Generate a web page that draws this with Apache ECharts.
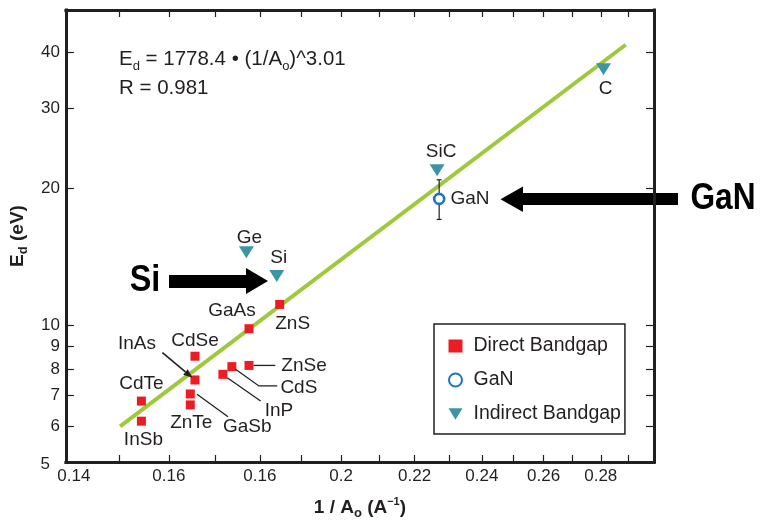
<!DOCTYPE html>
<html>
<head>
<meta charset="utf-8">
<script src="https://cdn.jsdelivr.net/npm/echarts@6/dist/echarts.min.js"></script>
<style>
  html, body { margin: 0; padding: 0; background: #fff; }
  #chart { width: 764px; height: 525px; }
</style>
</head>
<body>
<div id="chart"></div>
<script>
// 直接带隙 (red squares)
const directNames = ['InSb', 'CdTe', 'ZnTe', 'GaSb', 'InAs', 'CdSe', 'InP', 'CdS', 'ZnSe', 'GaAs', 'ZnS'];
const directX = [0.1544, 0.1544, 0.1645, 0.1645, 0.1655, 0.1655, 0.1716, 0.1736, 0.1775, 0.1775, 0.1847];
const directY = [6.15, 6.81, 6.68, 7.06, 7.58, 8.55, 7.80, 8.11, 8.16, 9.83, 11.12];

// 间接带隙 (teal triangles)
const indirectNames = ['Ge', 'Si', 'SiC', 'C'];
const indirectX = [0.1769, 0.1840, 0.2265, 0.2810];
const indirectY = [14.48, 12.84, 21.96, 36.65];

// GaN with error bar
const ganX = [0.2271];
const ganY = [18.99];
const ganLow = [17.11];
const ganHigh = [20.92];

// fit line end points
const fitX = [0.1502, 0.2892];
const fitY = [5.99, 41.5];

// ticks
const xTickValues = [0.15, 0.16, 0.17, 0.18, 0.19, 0.20, 0.21, 0.22, 0.23, 0.24, 0.25, 0.26, 0.27, 0.28, 0.29];
const xLabelValues = [0.14, 0.16, 0.18, 0.20, 0.22, 0.24, 0.26, 0.28];
const xLabelTexts = ['0.14', '0.16', '0.16', '0.2', '0.22', '0.24', '0.26', '0.28'];
const yTickValues = [6, 7, 8, 9, 10, 20, 30, 40];
const yLabelValues = [5, 6, 7, 8, 9, 10, 20, 30, 40];
const yLabelTexts = ['5', '6', '7', '8', '9', '10', '20', '30', '40'];

const lg = v => Math.log10(v);
const FONT = '"Liberation Sans", Arial, Helvetica, sans-serif';
const INK = '#231f20';
const RED = '#ec1c24';
const TEAL = '#3c95a5';
const BLUE = '#1c74bc';
const GREEN = '#9fc93c';

// label offsets (label centre minus point centre, px)
const labelOffset = {
  InSb: [2, 19], CdTe: [0, -17], ZnTe: [1, 18], GaSb: [57, 33], InAs: [-58, -36],
  CdSe: [0, -15], InP: [56, 36], CdS: [67, 21], ZnSe: [55, 0], GaAs: [-17, -18],
  ZnS: [13, 19], Ge: [3, -15], Si: [2, -18], SiC: [4, -18], C: [2, 20]
};
// leader lines, relative to the point
const leaders = {
  GaSb: [[6.7, 0.2], [37.7, 22.7]],
  InP: [[4.4, 3.4], [37.7, 26.7]],
  CdS: [[3.7, 2.6], [27, 19.3], [45.4, 19.3]],
  ZnSe: [[4.6, 0], [26.3, 0]]
};

const pointLabel = {
  show: true,
  position: 'inside',
  formatter: '{b}',
  color: INK,
  fontSize: 19,
  fontFamily: FONT,
  textBorderWidth: 0
};

function pts(names, xs, ys) {
  return names.map((n, i) => ({
    name: n,
    value: [lg(xs[i]), lg(ys[i])],
    label: { offset: labelOffset[n] }
  }));
}

function xAxisCfg(pos, showLabel) {
  return {
    type: 'value', position: pos, min: lg(0.14), max: lg(0.30),
    axisLine: { show: true, onZero: false, lineStyle: { color: INK, width: 3, cap: 'square' } },
    axisTick: { show: true, inside: true, length: 7, customValues: xTickValues.map(lg), lineStyle: { color: INK, width: 1.2 } },
    axisLabel: {
      show: showLabel, customValues: xLabelValues.map(lg), margin: 6,
      fontSize: 17, color: INK, fontFamily: FONT,
      formatter: v => {
        const i = xLabelValues.findIndex(t => Math.abs(lg(t) - v) < 1e-4);
        if (i < 0) return '';
        return i === 0 ? '{first|' + xLabelTexts[i] + '}' : xLabelTexts[i];
      },
      rich: { first: { fontSize: 17, color: INK, fontFamily: FONT, padding: [0, 0, 0, 16] } }
    },
    splitLine: { show: false }
  };
}

function yAxisCfg(pos, showLabel) {
  return {
    type: 'value', position: pos, min: lg(5), max: lg(49.5),
    axisLine: { show: true, onZero: false, lineStyle: { color: INK, width: 3, cap: 'square' } },
    axisTick: { show: true, inside: true, length: 8, customValues: yTickValues.map(lg), lineStyle: { color: INK, width: 1.2 } },
    axisLabel: {
      show: showLabel, customValues: yLabelValues.map(lg), margin: 6,
      fontSize: 17, color: INK, fontFamily: FONT,
      formatter: v => {
        const i = yLabelValues.findIndex(t => Math.abs(lg(t) - v) < 1e-4);
        if (i < 0) return '';
        return i === 0 ? '{first|' + yLabelTexts[i] + '}' : yLabelTexts[i];
      },
      rich: { first: { fontSize: 17, color: INK, fontFamily: FONT, padding: [5, 10, 0, 0] } }
    },
    splitLine: { show: false }
  };
}

const chart = echarts.init(document.getElementById('chart'));

const bottomX = xAxisCfg('bottom', true);
bottomX.name = '{b|1 / A}{s|o}{b| (A}{sup|−1}{b|)}';
bottomX.nameLocation = 'middle';
bottomX.nameGap = 34;
bottomX.nameTextStyle = {
  rich: {
    b: { fontSize: 19, fontWeight: 'bold', color: INK, fontFamily: FONT, lineHeight: 24 },
    s: { fontSize: 13, fontWeight: 'bold', color: INK, fontFamily: FONT, lineHeight: 13, verticalAlign: 'bottom' },
    sup: { fontSize: 11, fontWeight: 'bold', color: INK, fontFamily: FONT, lineHeight: 11, verticalAlign: 'top' }
  }
};

const leftY = yAxisCfg('left', true);
leftY.name = '{b|E}{s|d}{b| (eV)}';
leftY.nameLocation = 'middle';
leftY.nameGap = 36;
leftY.nameTextStyle = {
  rich: {
    b: { fontSize: 19, fontWeight: 'bold', color: INK, fontFamily: FONT, lineHeight: 24 },
    s: { fontSize: 13, fontWeight: 'bold', color: INK, fontFamily: FONT, lineHeight: 13, verticalAlign: 'bottom' }
  }
};

chart.setOption({
  animation: false,
  backgroundColor: '#fff',
  grid: { left: 65, right: 110, top: 10, bottom: 58 },
  xAxis: [bottomX, xAxisCfg('top', false)],
  yAxis: [leftY, yAxisCfg('right', false)],
  legend: {
    orient: 'vertical',
    left: 434, top: 324,
    padding: [12, 4, 10, 14],
    itemWidth: 14, itemHeight: 13, itemGap: 14,
    backgroundColor: '#fff',
    borderColor: INK, borderWidth: 1.5, borderRadius: 0,
    textStyle: { fontSize: 19.5, color: INK, fontFamily: FONT, padding: [0, 0, 0, 6] },
    data: [
      { name: 'Direct Bandgap', icon: 'rect' },
      { name: 'GaN', icon: 'circle' },
      { name: 'Indirect Bandgap', icon: 'path://M0,0L16,0L8,13Z' }
    ]
  },
  series: [
    {
      name: 'fit', type: 'line', symbol: 'none', silent: true, z: 1,
      lineStyle: { color: GREEN, width: 4 },
      data: fitX.map((x, i) => [lg(x), lg(fitY[i])])
    },
    {
      name: 'Direct Bandgap', type: 'scatter', symbol: 'rect', symbolSize: 9, z: 3,
      itemStyle: { color: RED, opacity: 1 },
      label: pointLabel,
      data: pts(directNames, directX, directY)
    },
    {
      name: 'GaN err', type: 'custom', z: 2,
      renderItem: (params, api) => {
        const x = api.value(0);
        const pLo = api.coord([x, api.value(1)]);
        const pHi = api.coord([x, api.value(2)]);
        const st = { stroke: INK, lineWidth: 1.2 };
        return {
          type: 'group',
          children: [
            { type: 'line', shape: { x1: pLo[0], y1: pLo[1], x2: pHi[0], y2: pHi[1] }, style: st },
            { type: 'line', shape: { x1: pLo[0] - 2.5, y1: pLo[1], x2: pLo[0] + 2.5, y2: pLo[1] }, style: st },
            { type: 'line', shape: { x1: pHi[0] - 2.5, y1: pHi[1], x2: pHi[0] + 2.5, y2: pHi[1] }, style: st }
          ]
        };
      },
      encode: { x: 0, y: [1, 2] },
      data: ganX.map((x, i) => [lg(x), lg(ganLow[i]), lg(ganHigh[i])])
    },
    {
      name: 'GaN', type: 'scatter', symbol: 'circle', symbolSize: 10, z: 4,
      itemStyle: { color: '#fff', borderColor: BLUE, borderWidth: 2.6, opacity: 1 },
      label: {
        show: true, position: 'right', distance: 5, formatter: '{b}',
        color: INK, fontSize: 19, fontFamily: FONT, textBorderWidth: 0
      },
      data: ganX.map((x, i) => ({ name: 'GaN', value: [lg(x), lg(ganY[i])] }))
    },
    {
      name: 'Indirect Bandgap', type: 'scatter', symbol: 'triangle', symbolRotate: 180,
      symbolSize: [15, 12], z: 3,
      itemStyle: { color: TEAL, opacity: 1 },
      label: pointLabel,
      data: pts(indirectNames, indirectX, indirectY)
    }
  ]
});

// annotations: leader lines, InAs arrow, formula, big arrows
const graphics = [];
const px = (x, y) => chart.convertToPixel({ gridIndex: 0 }, [lg(x), lg(y)]);

directNames.forEach((n, i) => {
  if (!leaders[n]) return;
  const p = px(directX[i], directY[i]);
  graphics.push({
    type: 'polyline', silent: true, z: 5,
    shape: { points: leaders[n].map(d => [p[0] + d[0], p[1] + d[1]]) },
    style: { stroke: INK, lineWidth: 1.3, fill: null }
  });
});

// InAs arrow
(function () {
  const i = directNames.indexOf('InAs');
  const p = px(directX[i], directY[i]);
  const a = [p[0] - 32.6, p[1] - 27.3];
  const b = [p[0] - 2.6, p[1] - 2.3];
  const dx = b[0] - a[0], dy = b[1] - a[1];
  const len = Math.hypot(dx, dy);
  const ux = dx / len, uy = dy / len;
  const hl = 9, hw = 3.6;
  const base = [b[0] - ux * hl, b[1] - uy * hl];
  graphics.push({
    type: 'line', silent: true, z: 5,
    shape: { x1: a[0], y1: a[1], x2: base[0], y2: base[1] },
    style: { stroke: INK, lineWidth: 1.6 }
  });
  graphics.push({
    type: 'polygon', silent: true, z: 5,
    shape: { points: [b, [base[0] - uy * hw, base[1] + ux * hw], [base[0] + uy * hw, base[1] - ux * hw]] },
    style: { fill: INK }
  });
})();

const richFormula = {
  m: { fontSize: 20.5, fontFamily: FONT, fill: INK, lineHeight: 26 },
  s: { fontSize: 13, fontFamily: FONT, fill: INK, lineHeight: 13, verticalAlign: 'bottom' }
};
graphics.push({
  type: 'text', left: 119, top: 49, silent: true,
  style: { text: '{m|E}{s|d}{m| = 1778.4 • (1/A}{s|o}{m|)^3.01}', rich: richFormula }
});
graphics.push({
  type: 'text', left: 119, top: 78, silent: true,
  style: { text: 'R = 0.981', fontSize: 20.5, fontFamily: FONT, fill: INK }
});

// big Si label and arrow
graphics.push({
  type: 'text', x: 145, y: 281, silent: true, scaleX: 0.9,
  style: { text: 'Si', fontSize: 36, fontWeight: 'bold', fontFamily: FONT, fill: '#000', align: 'center', verticalAlign: 'middle' }
});
graphics.push({
  type: 'polygon', silent: true,
  shape: { points: [[169, 275], [246, 275], [246, 268], [268, 281], [246, 294], [246, 288], [169, 288]] },
  style: { fill: '#000' }
});

// big GaN label and arrow
graphics.push({
  type: 'text', x: 723, y: 199, silent: true, scaleX: 0.88,
  style: { text: 'GaN', fontSize: 36, fontWeight: 'bold', fontFamily: FONT, fill: '#000', align: 'center', verticalAlign: 'middle' }
});
graphics.push({
  type: 'polygon', silent: true,
  shape: { points: [[678, 193], [523, 193], [523, 186.5], [500.5, 199.3], [523, 212], [523, 205], [678, 205]] },
  style: { fill: '#000' }
});

chart.setOption({ graphic: graphics });
</script>
</body>
</html>
